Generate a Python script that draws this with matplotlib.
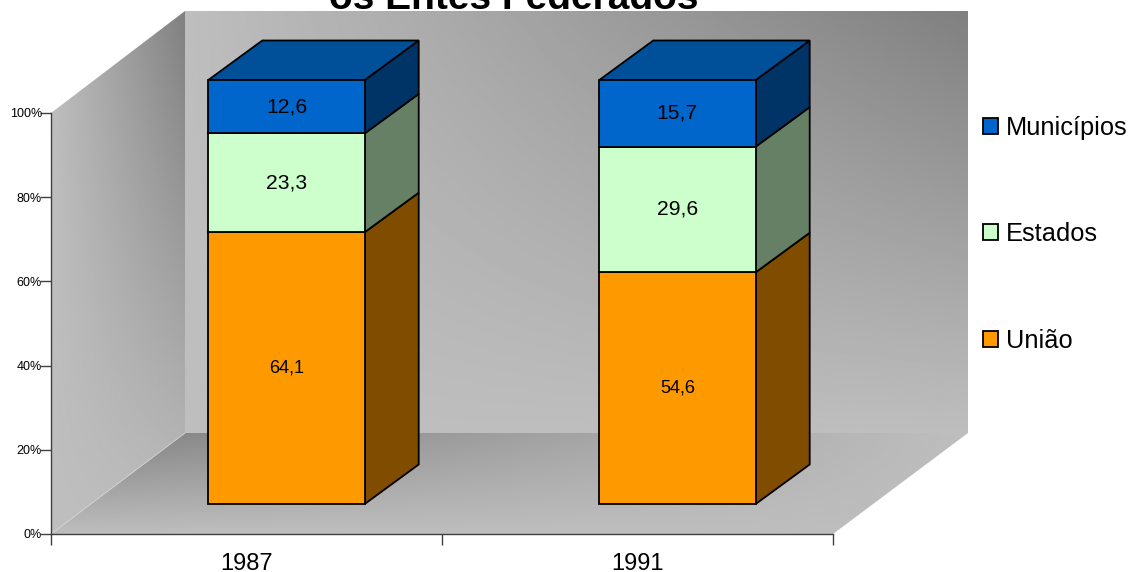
import numpy as np
import matplotlib
matplotlib.use("Agg")
import matplotlib.pyplot as plt
from matplotlib.patches import Patch, Polygon

plt.rcParams['font.family'] = ['Liberation Sans', 'DejaVu Sans']

years = ['1987', '1991']
uniao = [64.1, 54.6]
estados = [23.3, 29.6]
municipios = [12.6, 15.7]
series_names = ['União', 'Estados', 'Municípios']
yticks = [0, 20, 40, 60, 80, 100]
title = 'os Entes Federados'

W, H = 1131, 572
front = ['#FF9900', '#CCFFCC', '#0066CC']
side = ['#804D00', '#668066', '#003366']
top = '#004F99'
label_sizes = [13, 15.2, 15.2]


def axes_at(x0, y0, x1, y1):
    # pixel box, y measured from the top of the figure
    return fig.add_axes([x0 / W, 1 - y1 / H, (x1 - x0) / W, (y1 - y0) / H])


def shade(t):
    return 190 - 62 * t


def wall(bg, corners, img, extent):
    im = bg.imshow(img, cmap='gray', vmin=0, vmax=255, extent=extent, aspect='auto',
                   origin='upper', interpolation='bilinear')
    poly = Polygon(corners, closed=True, transform=bg.transData, fill=False, edgecolor='none')
    bg.add_patch(poly)
    im.set_clip_path(poly)


fig = plt.figure(figsize=(W / 100, H / 100), dpi=100, facecolor='white')

# walls and floor of the 3d box
bg = fig.add_axes([0, 0, 1, 1])
u, v = np.meshgrid(np.linspace(0, 1, 300), np.linspace(1, 0, 300))
wall(bg, [(185, 11), (968, 11), (968, 433), (185, 433)], shade(u * v), (185, 968, 433, 11))
wall(bg, [(51, 113), (185, 11), (185, 433), (51, 534)], shade(u * v), (51, 185, 534, 11))
wall(bg, [(51, 534), (833, 534), (968, 433), (185, 433)], shade((1 - u) * v), (51, 968, 534, 433))
bg.plot([51, 185], [534, 433], color='#d4d4d4', lw=0.6)
bg.set_xlim(0, W)
bg.set_ylim(H, 0)
bg.axis('off')

# percent axis along the front edge
ax = axes_at(51, 113, 833, 534)
ax.patch.set_alpha(0)
ax.set_xlim(0, 2)
ax.set_ylim(0, 100)
for s in ['top', 'right']:
    ax.spines[s].set_visible(False)
for s in ['left', 'bottom']:
    ax.spines[s].set_color('#404040')
    ax.spines[s].set_linewidth(1)
ax.set_yticks(yticks)
ax.set_yticklabels([f'{t}%' for t in yticks], fontsize=9)
ax.tick_params(axis='y', length=8, width=1, color='#404040', pad=-1.5)
ax.set_xticks([0, 1, 2])
ax.set_xticklabels([])
ax.tick_params(axis='x', which='major', length=8, width=1, color='#404040')
ax.set_xticks([0.5, 1.5], minor=True)
ax.set_xticklabels(years, minor=True, fontsize=17)
ax.tick_params(axis='x', which='minor', length=0, pad=14)

# stacked bars, sitting partway into the box
bar_ax = axes_at(91, 80, 873, 504)
bar_ax.patch.set_alpha(0)
bar_ax.set_xlim(0, 2)
bar_ax.set_ylim(0, 100)
bar_ax.axis('off')

width = 0.4
depth_x = 54 / 391
depth_y = 39.5 / 4.24
edge = dict(edgecolor='black', linewidth=1.3, joinstyle='miter', clip_on=False)

data = np.array([uniao, estados, municipios])
shares = data / data.sum(axis=0) * 100
xs = np.array([0.5, 1.5])
bottom = np.zeros(2)
for i, name in enumerate(series_names):
    bars = bar_ax.bar(xs, shares[i], width, bottom=bottom, color=front[i], label=name, zorder=3, **edge)
    for x, b, h, val in zip(xs, bottom, shares[i], data[i]):
        r = x + width / 2
        bar_ax.add_patch(Polygon([(r, b), (r + depth_x, b + depth_y), (r + depth_x, b + h + depth_y), (r, b + h)],
                                 closed=True, facecolor=side[i], zorder=2, **edge))
        bar_ax.text(x, b + h / 2, f'{val:.1f}'.replace('.', ','), ha='center', va='center',
                    fontsize=label_sizes[i], zorder=4)
    bottom = bottom + shares[i]

for x in xs:
    l, r = x - width / 2, x + width / 2
    bar_ax.add_patch(Polygon([(l, 100), (r, 100), (r + depth_x, 100 + depth_y), (l + depth_x, 100 + depth_y)],
                             closed=True, facecolor=top, zorder=2, **edge))

handles = [Patch(facecolor=front[i], edgecolor='black', linewidth=1.3, label=series_names[i]) for i in [2, 1, 0]]
fig.legend(handles=handles, loc='upper left', bbox_to_anchor=(983 / W, 1 - 116 / H), frameon=False,
           fontsize=18.3, handlelength=0.6, handleheight=0.6, handletextpad=0.3, labelspacing=3.24,
           borderpad=0, borderaxespad=0)

fig.text(514 / W, 1 - 9 / H, title, ha='center', va='baseline', fontsize=28, fontweight='bold')

fig.savefig('out.png', dpi=100)
